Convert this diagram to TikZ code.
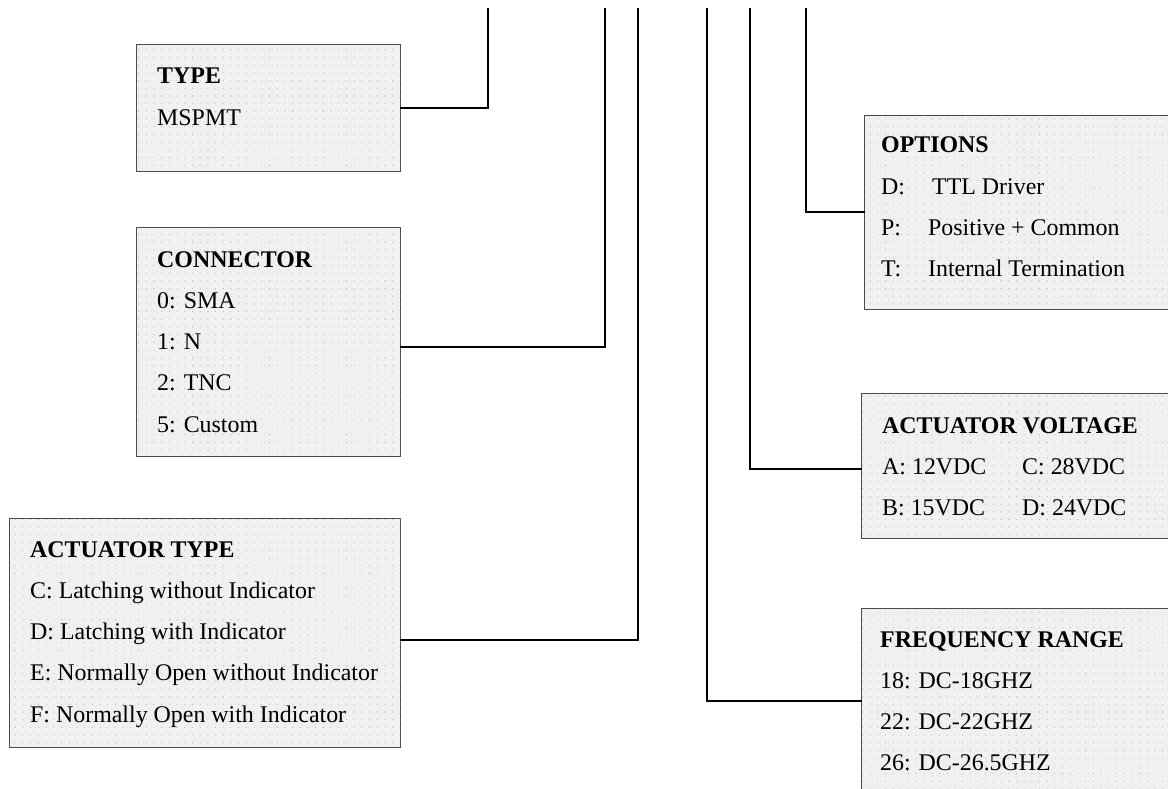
\documentclass[tikz,border=0pt]{standalone}
\usepackage{fontspec}
\setmainfont{Liberation Serif}
\usetikzlibrary{patterns.meta}
\tikzset{
  box/.style={draw=black!70, line width=0.9pt, fill=black!6, anchor=north west, inner sep=0pt,
    postaction={pattern={Dots[distance=7.7pt, radius=0.55pt]}, pattern color=black!30}},
  entry/.style={anchor=base west, inner sep=0pt, font=\fontsize{23.9}{28}\selectfont},
  lead/.style={line width=2pt, line cap=rect}
}

\begin{document}
\begin{tikzpicture}[x=1pt, y=-1pt]

  \newcommand\dY{41.3pt}
  \path[use as bounding box, clip] (0,0) rectangle (1168,789);

  % option boxes
  \node[box, minimum width=264pt, minimum height=127pt] (type) at (136,44) {};
  \node[box, minimum width=264pt, minimum height=229pt] (conn) at (136,227) {};
  \node[box, minimum width=391pt, minimum height=229pt] (acttype) at (9,518) {};
  \node[box, minimum width=330pt, minimum height=194pt] (opts) at (864,115) {};
  \node[box, minimum width=330pt, minimum height=145pt] (volt) at (861,393) {};
  \node[box, minimum width=330pt, minimum height=186pt] (freq) at (861,608) {};

  % texts
  \foreach \txt [count=\i] in {\textbf{TYPE}, MSPMT}
    \node[entry] (type-\i) at ([xshift=21pt, yshift=-40pt-\dY*(\i-1)]type.north west) {\txt};
  \foreach \txt [count=\i] in {\textbf{CONNECTOR}, 0: SMA, 1: N, 2: TNC, 5: Custom}
    \node[entry] (conn-\i) at ([xshift=21pt, yshift=-40pt-\dY*(\i-1)]conn.north west) {\txt};
  \foreach \txt [count=\i] in {\textbf{ACTUATOR TYPE}, C: Latching without Indicator,
      D: Latching with Indicator, E: Normally Open without Indicator, F: Normally Open with Indicator}
    \node[entry] (acttype-\i) at ([xshift=21pt, yshift=-39pt-\dY*(\i-1)]acttype.north west) {\txt};
  \foreach \txt [count=\i] in {\textbf{OPTIONS}, \makebox[51pt][l]{D:}TTL Driver,
      \makebox[47pt][l]{P:}Positive + Common, \makebox[47pt][l]{T:}Internal Termination}
    \node[entry] (opts-\i) at ([xshift=17pt, yshift=-38pt-\dY*(\i-1)]opts.north west) {\txt};
  \foreach \txt [count=\i] in {\textbf{ACTUATOR VOLTAGE}, \makebox[140pt][l]{A: 12VDC}C: 28VDC,
      \makebox[140pt][l]{B: 15VDC}D: 24VDC}
    \node[entry] (volt-\i) at ([xshift=21pt, yshift=-40pt-\dY*(\i-1)]volt.north west) {\txt};
  \foreach \txt [count=\i] in {\textbf{FREQUENCY RANGE}, 18: DC-18GHZ, 22: DC-22GHZ, 26: DC-26.5GHZ}
    \node[entry] (freq-\i) at ([xshift=19pt, yshift=-39pt-\dY*(\i-1)]freq.north west) {\txt};

  % leads from the part number
  \coordinate (top-1) at (488,9);
  \coordinate (top-2) at (605,9);
  \coordinate (top-3) at (638,9);
  \coordinate (top-4) at (707,9);
  \coordinate (top-5) at (750,9);
  \coordinate (top-6) at (806,9);

  \draw[lead] (type.east) -| (top-1);
  \draw[lead] ([yshift=-5.5pt]conn.east) -| (top-2);
  \draw[lead] ([yshift=-7.5pt]acttype.east) -| (top-3);
  \draw[lead] (freq.west) -| (top-4);
  \draw[lead] ([yshift=-3.5pt]volt.west) -| (top-5);
  \draw[lead] (opts.west) -| (top-6);

\end{tikzpicture}
\end{document}
